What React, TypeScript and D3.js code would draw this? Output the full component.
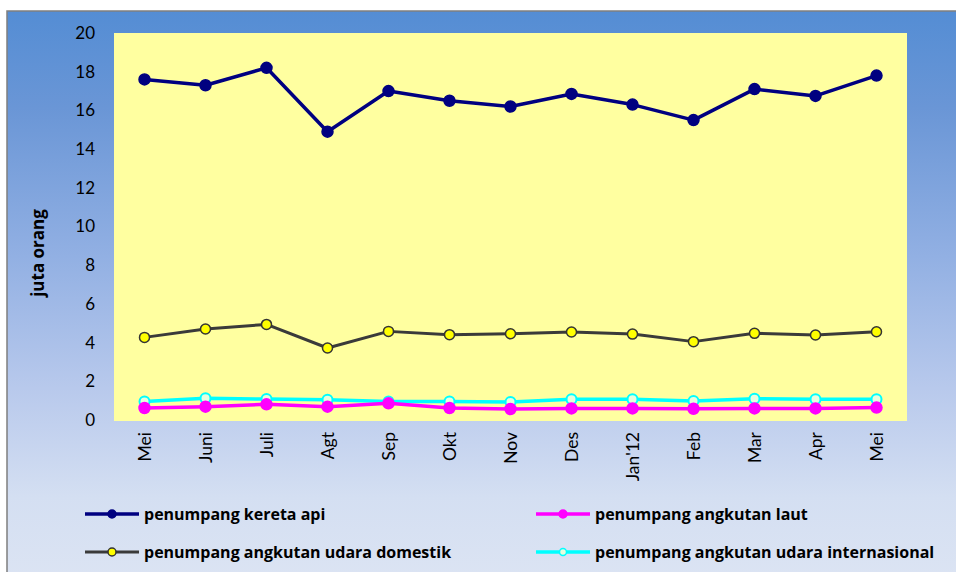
import React, { useEffect, useRef } from 'react';
import * as d3 from 'd3';

const months = ['Mei', 'Juni', 'Juli', 'Agt', 'Sep', 'Okt', 'Nov', 'Des', "Jan'12", 'Feb', 'Mar', 'Apr', 'Mei '];
const keretaApi = [17.6, 17.3, 18.2, 14.9, 17.0, 16.5, 16.2, 16.85, 16.3, 15.5, 17.1, 16.75, 17.8];
const udaraDomestik = [4.27, 4.7, 4.94, 3.72, 4.58, 4.41, 4.46, 4.55, 4.44, 4.05, 4.48, 4.39, 4.56];
const angkutanLaut = [0.62, 0.69, 0.81, 0.69, 0.86, 0.62, 0.57, 0.6, 0.6, 0.58, 0.6, 0.6, 0.64];
const udaraInternasional = [0.95, 1.12, 1.08, 1.05, 0.95, 0.95, 0.93, 1.07, 1.07, 0.98, 1.1, 1.07, 1.07];
const yTicks = [0, 2, 4, 6, 8, 10, 12, 14, 16, 18, 20];

const series = [
  { name: 'penumpang kereta api', values: keretaApi, stroke: '#000080', fill: '#000080', width: 3.5, r: 5.5, mStroke: '#000080' },
  { name: 'penumpang angkutan udara domestik', values: udaraDomestik, stroke: '#3a3a3a', fill: '#ffff00', width: 3, r: 5, mStroke: '#333333' },
  { name: 'penumpang angkutan laut', values: angkutanLaut, stroke: '#ff00ff', fill: '#ff00ff', width: 3.5, r: 5.5, mStroke: '#ff00ff' },
  { name: 'penumpang angkutan udara internasional', values: udaraInternasional, stroke: '#00ffff', fill: '#e6ffdf', width: 3.5, r: 5, mStroke: '#00ffff' },
];

const W = 956;
const H = 572;
const font = 'Lato, "Open Sans", sans-serif';
const boldFont = '"Open Sans", Lato, sans-serif';

export default function App() {
  const ref = useRef<SVGSVGElement>(null);

  useEffect(() => {
    const svg = d3.select(ref.current);
    svg.selectAll('*').remove();

    const defs = svg.append('defs');
    const grad = defs.append('linearGradient')
      .attr('id', 'bg').attr('x1', 0).attr('y1', 0).attr('x2', 0).attr('y2', 1);
    [[0, '#548dd4'], [0.17, '#6a96d6'], [0.43, '#92b0e3'], [0.66, '#b8c9ec'], [0.85, '#d4dff2'], [1, '#dce4f3']]
      .forEach(([o, c]) => grad.append('stop').attr('offset', o as number).attr('stop-color', c as string));

    svg.append('rect')
      .attr('x', 7).attr('y', 11).attr('width', W).attr('height', H)
      .attr('fill', 'url(#bg)').attr('stroke', '#7f7f7f').attr('stroke-width', 1.5);

    const left = 114, right = 907, top = 33, bottom = 420;

    const x = d3.scaleBand().domain(months).range([left, right]);
    const y = d3.scaleLinear().domain([0, 20]).range([bottom, top]);

    svg.append('rect')
      .attr('x', left).attr('y', top).attr('width', right - left).attr('height', bottom - top + 1)
      .attr('fill', '#ffffa0');

    // y axis labels
    svg.append('g').selectAll('text').data(yTicks).enter().append('text')
      .attr('x', 95).attr('y', (d) => y(d)).attr('dy', '0.35em')
      .attr('text-anchor', 'end').attr('font-family', font).attr('font-size', 17)
      .attr('fill', '#000').text((d) => d);

    svg.append('text')
      .attr('transform', `translate(44, 253) rotate(-90)`)
      .attr('text-anchor', 'middle').attr('font-family', boldFont).attr('font-size', 17)
      .attr('font-weight', 'bold').text('juta orang');

    // x axis labels
    svg.append('g').selectAll('text').data(months).enter().append('text')
      .attr('transform', (d) => `translate(${(x(d) as number) + x.bandwidth() / 2 + 6}, 432) rotate(-90)`)
      .attr('text-anchor', 'end').attr('font-family', font).attr('font-size', 17.5)
      .text((d) => d.trim());

    const cx = (i: number) => (x(months[i]) as number) + x.bandwidth() / 2;
    const line = d3.line<number>().x((_, i) => cx(i)).y((d) => y(d));

    [0, 1, 3, 2].forEach((k) => {
      const s = series[k];
      const g = svg.append('g');
      g.append('path').attr('d', line(s.values)).attr('fill', 'none')
        .attr('stroke', s.stroke).attr('stroke-width', s.width).attr('stroke-linejoin', 'round');
      g.selectAll('circle').data(s.values).enter().append('circle')
        .attr('cx', (_, i) => cx(i)).attr('cy', (d) => y(d)).attr('r', s.r)
        .attr('fill', s.fill).attr('stroke', s.mStroke).attr('stroke-width', k === 3 ? 2 : 1.5);
    });

    // legend
    const legendPos = [
      { x: 85, y: 514 },
      { x: 85, y: 552 },
      { x: 536, y: 514 },
      { x: 536, y: 552 },
    ];
    series.forEach((s, k) => {
      const p = legendPos[k];
      const g = svg.append('g').attr('transform', `translate(${p.x}, ${p.y})`);
      g.append('line').attr('x1', 0).attr('x2', 54).attr('y1', 0).attr('y2', 0)
        .attr('stroke', s.stroke).attr('stroke-width', s.width);
      g.append('circle').attr('cx', 27).attr('cy', 0).attr('r', k === 3 ? 3.5 : 4)
        .attr('fill', s.fill).attr('stroke', s.mStroke).attr('stroke-width', 1.5);
      g.append('text').attr('x', 59).attr('y', 0).attr('dy', '0.35em')
        .attr('font-family', boldFont).attr('font-size', 16).attr('font-weight', 'bold')
        .attr('fill', '#000').text(s.name);
    });
  }, []);

  return (
    <svg ref={ref} width={W} height={H}
      style={{ position: 'absolute', left: 0, top: 0, background: '#fff' }} />
  );
}
